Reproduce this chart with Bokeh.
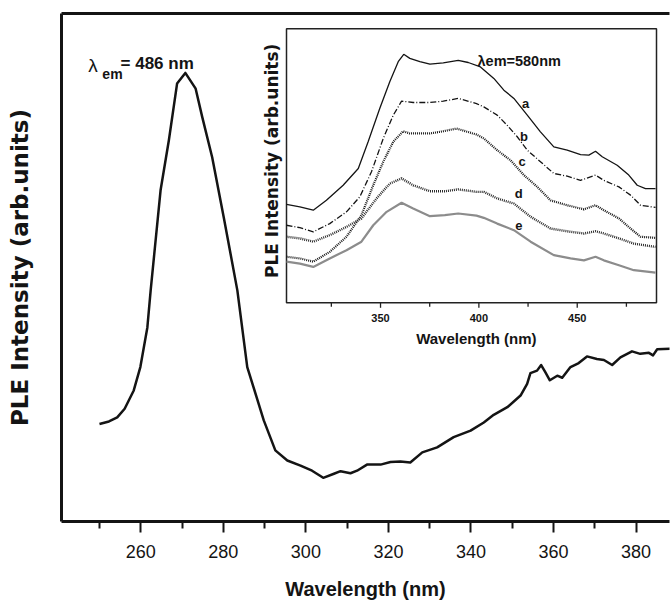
import math
from bokeh.plotting import figure
from bokeh.models import FixedTicker, LinearAxis, Label, Range1d
from bokeh.embed import file_html
from bokeh.resources import INLINE

# ---------------- data ----------------
main_wl = [250.0, 252.3, 254.3, 256.1, 258.3, 259.9, 261.6, 262.4, 264.8, 266.8, 268.8, 270.8,
           273.3, 274.9, 277.3, 280.1, 283.4, 285.8, 289.8, 292.6, 295.5, 298.7, 301.5, 304.2,
           306.8, 308.4, 310.8, 312.4, 314.8, 318.1, 320.5, 322.9, 325.3, 328.2, 331.8, 335.8,
           339.9, 343.1, 345.5, 348.8, 352.0, 353.6, 354.4, 356.0, 357.0, 358.0, 359.1, 360.9,
           362.1, 364.1, 366.1, 368.1, 370.5, 372.2, 374.2, 376.2, 379.0, 381.0, 383.1, 384.1,
           385.1, 388.3]
main_int = [19.2, 19.7, 20.5, 22.2, 25.8, 30.4, 38.2, 45.5, 65.2, 75.0, 86.2, 88.3,
            85.2, 79.6, 71.7, 59.9, 45.5, 30.4, 19.9, 14.0, 12.0, 11.0, 10.0, 8.6,
            9.4, 9.9, 9.5, 10.0, 11.2, 11.2, 11.7, 11.8, 11.6, 13.6, 14.6, 16.6,
            17.9, 19.5, 21.0, 22.5, 24.8, 27.1, 29.2, 29.7, 30.8, 29.4, 27.8, 28.7,
            28.3, 30.4, 31.2, 32.5, 32.0, 31.8, 30.8, 32.3, 33.5, 33.0, 33.2, 32.7,
            33.9, 34.0]

a_wl = [302.2, 309.0, 315.8, 322.5, 331.0, 338.7, 343.7, 349.6, 354.7, 359.0, 361.8, 364.9,
        370.0, 375.1, 381.9, 389.5, 394.6, 400.8, 407.6, 412.7, 417.8, 424.6, 431.3, 438.1,
        444.9, 451.7, 455.9, 459.3, 462.7, 470.3, 476.2, 480.5, 484.7, 489.8]
a_int = [35.9, 35.0, 33.8, 37.4, 42.9, 49.0, 58.8, 70.9, 80.7, 88.0, 90.7, 89.2,
         88.0, 87.1, 87.6, 88.5, 87.7, 86.1, 81.9, 77.6, 74.6, 68.5, 62.4, 56.9,
         55.7, 54.1, 53.9, 55.3, 53.3, 50.2, 46.6, 42.9, 41.7, 41.7]

b_wl = [302.2, 309.0, 315.8, 324.2, 332.7, 339.5, 345.4, 351.4, 356.5, 360.7, 366.6, 375.1,
        381.9, 389.5, 398.8, 402.5, 409.3, 414.4, 419.5, 424.6, 431.3, 438.1, 444.9, 451.7,
        459.3, 463.5, 471.2, 477.1, 482.2, 489.8]
b_int = [28.3, 27.4, 25.9, 28.9, 33.2, 38.7, 47.8, 60.0, 68.5, 73.6, 73.1, 73.1,
         73.6, 74.6, 72.7, 71.5, 68.5, 64.8, 60.6, 55.7, 51.5, 47.2, 46.2, 44.7,
         46.6, 44.7, 42.3, 39.3, 35.6, 34.8]

c_wl = [302.2, 309.0, 315.8, 324.2, 332.7, 340.3, 346.3, 351.4, 356.5, 361.5, 364.9, 375.1,
        381.9, 388.6, 398.8, 402.5, 409.3, 416.1, 422.9, 429.7, 436.4, 444.9, 453.4, 459.3,
        463.5, 471.2, 477.1, 482.2, 489.8]
c_int = [16.8, 16.2, 15.0, 18.6, 24.1, 32.0, 42.9, 51.5, 58.8, 62.6, 61.8, 61.8,
         62.6, 63.6, 61.4, 60.0, 55.7, 52.0, 46.6, 42.3, 37.4, 35.6, 34.1, 35.6,
         33.8, 30.8, 27.1, 24.1, 23.7]

d_wl = [302.2, 309.0, 315.8, 324.2, 332.7, 340.3, 348.0, 354.7, 360.7, 366.6, 375.1, 382.7,
        389.5, 398.8, 402.5, 409.3, 417.8, 426.3, 436.4, 444.9, 453.4, 459.3, 463.5, 471.2,
        478.8, 489.8]
d_int = [24.1, 23.5, 22.3, 24.7, 27.7, 30.8, 38.1, 43.5, 45.4, 42.9, 40.7, 40.7,
         41.4, 40.5, 40.5, 38.1, 36.2, 31.4, 27.1, 26.1, 25.3, 26.1, 25.3, 23.5,
         21.6, 20.4]

e_wl = [302.2, 309.0, 315.8, 324.2, 332.7, 340.3, 346.3, 353.1, 360.7, 366.6, 375.1, 382.7,
        389.5, 398.8, 402.5, 409.3, 417.8, 426.3, 438.1, 446.6, 453.4, 459.3, 463.5, 471.2,
        478.8, 489.8]
e_int = [15.0, 14.3, 13.1, 16.2, 19.2, 22.3, 28.3, 33.2, 36.5, 34.4, 31.6, 32.0,
         32.6, 31.8, 31.0, 28.9, 26.5, 22.3, 17.4, 16.2, 15.5, 16.8, 15.5, 13.7,
         11.9, 11.0]

main_ticks = [260, 280, 300, 320, 340, 360, 380]
main_minor = [250, 270, 290, 310, 330, 350, 370, 390]
inset_ticks = [350, 400, 450]
inset_minor = [325, 375, 425, 475]
inset_tick_labels = ["350", "400", "450"]
curve_names = ["a", "b", "c", "d", "e"]
name_x = [423.7, 422.9, 422.0, 420.3, 420.3]
name_y = [72.7, 60.6, 51.5, 39.9, 28.3]

# ---------------- layout constants (pixels) ----------------
W, H = 670, 606
FL, FR, FT, FB = 61, 669, 13, 521          # main frame
IL, IR, IT, IB = 286, 656, 28.3, 302.3     # inset frame
MX0 = 240.8
MX1 = MX0 + (FR - FL) / 4.128
IX0, IX1, IY0, IY1 = 302.2, 490.3, 0.0, 100.0
kx = (IX1 - IX0) / (IR - IL)
ky = (IY1 - IY0) / (IB - IT)
ix_range = Range1d(IX0 - (IL - FL) * kx, IX1 + (FR - IR) * kx)
iy_range = Range1d(IY0 - (FB - IB) * ky, IY1 + (IT - FT) * ky)

SANS = "Liberation Sans"
WIDE = "DejaVu Sans"
INK = "#141414"

# ---------------- figure ----------------
p = figure(width=W, height=H, output_backend="svg", toolbar_location=None,
           x_range=Range1d(MX0, MX1), y_range=Range1d(0, 100),
           min_border_left=FL, min_border_right=W - FR, min_border_top=FT,
           min_border_bottom=H - FB)
p.extra_x_ranges = {"ix": ix_range}
p.extra_y_ranges = {"iy": iy_range}
p.outline_line_color = None
p.grid.visible = False
p.background_fill_color = "white"
p.border_fill_color = "white"

xa = p.xaxis[0]
xa.ticker = FixedTicker(ticks=main_ticks, minor_ticks=main_minor)
xa.axis_line_width = 3
xa.axis_line_color = INK
xa.major_tick_in = 0
xa.major_tick_out = 11
xa.major_tick_line_width = 2
xa.major_tick_line_color = INK
xa.minor_tick_in = 0
xa.minor_tick_out = 7
xa.minor_tick_line_width = 2
xa.minor_tick_line_color = INK
xa.major_label_text_font = SANS
xa.major_label_text_font_size = "18px"
xa.major_label_text_color = INK
xa.major_label_standoff = 12
xa.axis_label = "Wavelength (nm)"
xa.axis_label_text_font = SANS
xa.axis_label_text_font_style = "bold"
xa.axis_label_text_font_size = "20px"
xa.axis_label_text_color = INK
xa.axis_label_standoff = 17

ya = p.yaxis[0]
ya.ticker = []
ya.axis_line_width = 3
ya.axis_line_color = INK
ya.major_tick_out = 0
ya.minor_tick_out = 0
ya.axis_label = "PLE Intensity (arb.units)"
ya.axis_label_text_font = WIDE
ya.axis_label_text_font_style = "bold"
ya.axis_label_text_font_size = "23px"
ya.axis_label_text_color = INK
ya.axis_label_standoff = 29

top = LinearAxis(ticker=[], axis_line_width=3, axis_line_color=INK,
                 major_tick_out=0, minor_tick_out=0)
p.add_layout(top, "above")

# main spectrum
p.line(main_wl, main_int, line_width=2.5, line_color=INK, line_join="round")

p.add_layout(Label(x=247.3, y=89.8, text="λ", text_font=SANS, text_font_size="19px",
                   text_color=INK, text_baseline="alphabetic"))
p.add_layout(Label(x=250.7, y=88.0, text="em", text_font=SANS, text_font_style="bold",
                   text_font_size="14px", text_color=INK, text_baseline="alphabetic"))
p.add_layout(Label(x=255.1, y=90.2, text="= 486 nm", text_font=SANS, text_font_style="bold",
                   text_font_size="17px", text_color=INK, text_baseline="alphabetic"))

# ---------------- inset (drawn on the extra ranges) ----------------
IR_ = dict(x_range_name="ix", y_range_name="iy")
p.quad(left=[IX0], right=[IX1], bottom=[IY0], top=[IY1], fill_color="white",
       line_color="#222222", line_width=1.5, **IR_)
p.ray(x=inset_ticks, y=[IY0] * len(inset_ticks), length=5, length_units="screen",
      angle=-math.pi / 2, line_color="#222222", line_width=1.3, **IR_)
p.ray(x=inset_minor, y=[IY0] * len(inset_minor), length=4, length_units="screen",
      angle=-math.pi / 2, line_color="#222222", line_width=1.3, **IR_)
p.text(x=inset_ticks, y=[-5.7] * len(inset_ticks), text=inset_tick_labels,
       text_align="center", text_baseline="middle", text_font={"value": SANS},
       text_font_style="bold", text_font_size="11px", text_color=INK, **IR_)

p.line(a_wl, a_int, line_width=1.3, line_color=INK, **IR_)
p.line(b_wl, b_int, line_width=1.3, line_color=INK, line_dash="6 2 1 2", **IR_)
p.line(c_wl, c_int, line_width=2.2, line_color="#1a1a1a", line_dash="1 1", **IR_)
p.line(d_wl, d_int, line_width=2.4, line_color="#2b2b2b", line_dash="1 1", **IR_)
p.line(e_wl, e_int, line_width=2.2, line_color="#8c8c8c", **IR_)

for nm, nx, ny in zip(curve_names, name_x, name_y):
    p.add_layout(Label(x=nx, y=ny, text=nm, text_align="center", text_baseline="middle",
                       text_font=SANS, text_font_style="bold", text_font_size="13px",
                       text_color=INK, **IR_))
p.add_layout(Label(x=399.3, y=88.4, text="λem=580nm", text_font=SANS, text_font_style="bold",
                   text_font_size="14.5px", text_color=INK, text_baseline="alphabetic", **IR_))
p.add_layout(Label(x=398.7, y=-13.1, text="Wavelength (nm)", text_align="center",
                   text_baseline="middle", text_font=SANS, text_font_style="bold",
                   text_font_size="15px", text_color=INK, **IR_))
p.add_layout(Label(x=294.9, y=51.8, text="PLE Intensity (arb.units)", angle=math.pi / 2,
                   text_align="center", text_baseline="middle", text_font=WIDE,
                   text_font_style="bold", text_font_size="17px", text_color=INK, **IR_))

open("out.html", "w").write(file_html(p, INLINE))
